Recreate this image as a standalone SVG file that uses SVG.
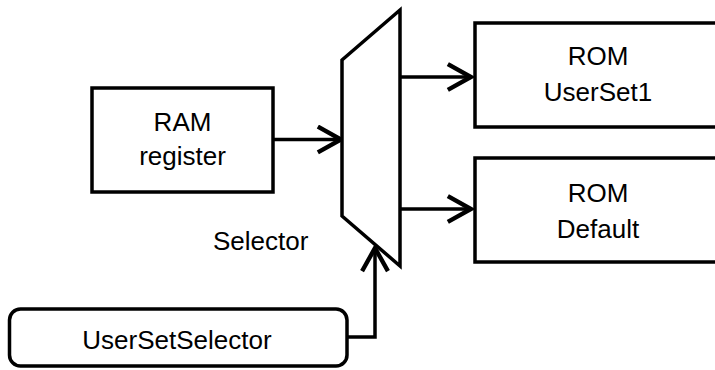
<svg xmlns="http://www.w3.org/2000/svg" width="715" height="370" viewBox="0 0 715 370">
<defs>
<style>
.box{fill:#fff;stroke:#000;stroke-width:3.5}
.ln{fill:none;stroke:#000;stroke-width:3.5}
text{font-family:"Liberation Sans",Arial,sans-serif;font-size:26px;fill:#000}
.c{text-anchor:middle}
</style>
<marker id="arr" markerUnits="userSpaceOnUse" markerWidth="30" markerHeight="30" viewBox="-20 -12 24 24" refX="0" refY="0" orient="auto">
<path d="M-17,-9.5 L0,0 L-17,9.5" fill="none" stroke="#000" stroke-width="3.5" stroke-linecap="square"/>
</marker>
</defs>
<rect width="715" height="370" fill="#fff"/>
<g id="connectors">
<line class="ln" x1="273" y1="139.5" x2="341" y2="139.5" marker-end="url(#arr)"/>
<line class="ln" x1="400" y1="77" x2="471" y2="77" marker-end="url(#arr)"/>
<line class="ln" x1="400" y1="209" x2="471" y2="209" marker-end="url(#arr)"/>
<polyline class="ln" points="347,337 375,337 375,248" marker-end="url(#arr)"/>
</g>
<g id="ram">
<rect class="box" x="92" y="88" width="181" height="104"/>
<text class="c" x="182.5" y="131">RAM</text>
<text class="c" x="182.5" y="165">register</text>
</g>
<g id="selector">
<polygon class="box" points="342,60 400,10 400,266 342,216"/>
<text x="213" y="250">Selector</text>
</g>
<g id="rom-userset1">
<rect class="box" x="475" y="23" width="250" height="104"/>
<text class="c" x="598" y="65">ROM</text>
<text class="c" x="598" y="101">UserSet1</text>
</g>
<g id="rom-default">
<rect class="box" x="475" y="158" width="250" height="104"/>
<text class="c" x="598" y="202">ROM</text>
<text class="c" x="598" y="238">Default</text>
</g>
<g id="usersetselector">
<rect class="box" x="9.5" y="309" width="337.5" height="57" rx="11" ry="11"/>
<text class="c" x="177" y="349">UserSetSelector</text>
</g>
</svg>
